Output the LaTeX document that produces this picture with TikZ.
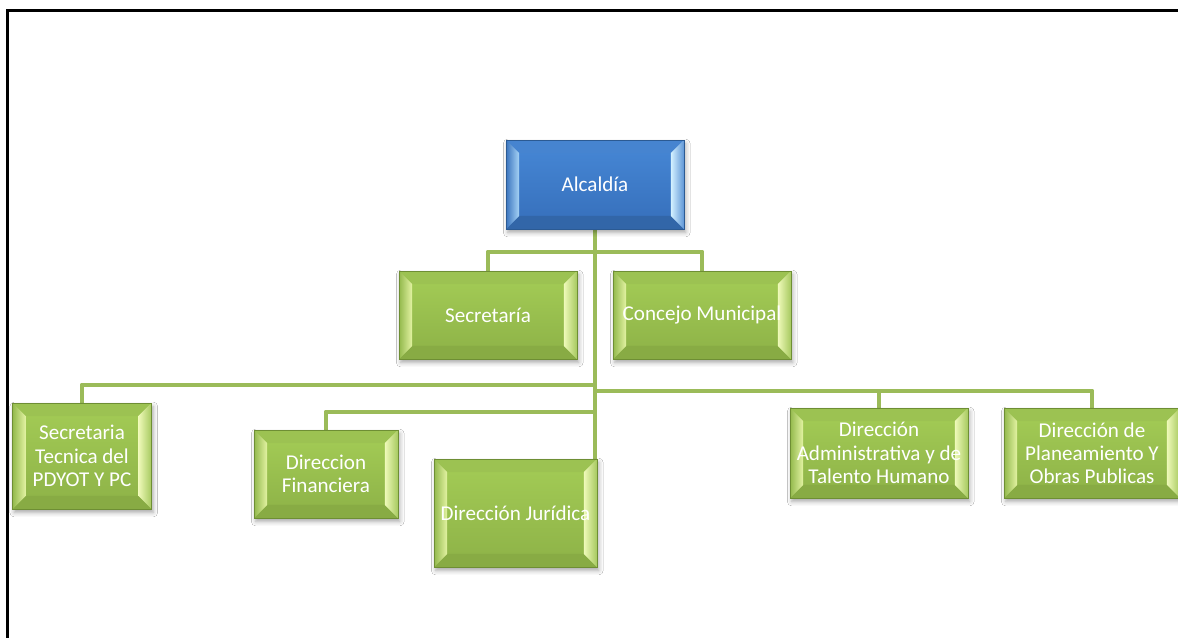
\documentclass[tikz,border=0pt]{standalone}
\usepackage{fontspec}
\setmainfont{Carlito}
\usetikzlibrary{calc,shadows.blur,backgrounds}
\definecolor{conncol}{HTML}{9BBB59}
\definecolor{gline}{HTML}{6E8E34}
\definecolor{gface}{HTML}{9BC250}
\definecolor{gfacetop}{HTML}{A1C954}
\definecolor{gfacebot}{HTML}{90B549}
\definecolor{gbevtop}{HTML}{9CC252}
\definecolor{gbevbot}{HTML}{88AB44}
\definecolor{gbevlo}{HTML}{93B94C}
\definecolor{gbevli}{HTML}{E2F2A2}
\definecolor{gbevri}{HTML}{EEF9B8}
\definecolor{gbevro}{HTML}{A6C95F}
\definecolor{bline}{HTML}{2B5A93}
\definecolor{bface}{RGB}{62,125,201}
\definecolor{bfacetop}{RGB}{68,132,210}
\definecolor{bfacebot}{RGB}{56,114,190}
\definecolor{bbevtop}{RGB}{70,132,208}
\definecolor{bbevbot}{RGB}{50,102,168}
\definecolor{bbevlo}{RGB}{58,116,190}
\definecolor{bbevli}{RGB}{165,210,245}
\definecolor{bbevri}{RGB}{210,240,255}
\definecolor{bbevro}{RGB}{95,150,215}
\newlength{\bv}\setlength{\bv}{0.26cm}
\newcommand\bevelpic[8]{%
  \coordinate (bNW) at (path picture bounding box.north west);
  \coordinate (bNE) at (path picture bounding box.north east);
  \coordinate (bSW) at (path picture bounding box.south west);
  \coordinate (bSE) at (path picture bounding box.south east);
  \coordinate (iNW) at ($(bNW)+(\bv,-\bv)$);
  \coordinate (iNE) at ($(bNE)+(-\bv,-\bv)$);
  \coordinate (iSW) at ($(bSW)+(\bv,\bv)$);
  \coordinate (iSE) at ($(bSE)+(-\bv,\bv)$);
  \shade[top color=#1,bottom color=#2] (iNW) rectangle (iSE);
  \fill[#3] (bNW)--(bNE)--(iNE)--(iNW)--cycle;
  \fill[#4] (bSW)--(bSE)--(iSE)--(iSW)--cycle;
  \shade[left color=#5,right color=#6] (bNW)--(iNW)--(iSW)--(bSW)--cycle;
  \shade[left color=#7,right color=#8] (bNE)--(iNE)--(iSE)--(bSE)--cycle;
}
\tikzset{
  basebox/.style={rectangle, inner sep=0pt, text=white, align=center,
    font=\fontsize{12}{13.2}\selectfont, line width=0.5pt,
    blur shadow={shadow xshift=1pt, shadow yshift=-2pt, shadow blur radius=2.5pt, shadow opacity=35}},
  greenbox/.style={basebox, draw=gline, fill=gface,
    path picture={\bevelpic{gfacetop}{gfacebot}{gbevtop}{gbevbot}{gbevlo}{gbevli}{gbevri}{gbevro}}},
  bluebox/.style={basebox, draw=bline, fill=bface,
    path picture={\bevelpic{bfacetop}{bfacebot}{bbevtop}{bbevbot}{bbevlo}{bbevli}{bbevri}{bbevro}}},
  conn/.style={draw=conncol, line width=2.8pt, line join=round},
  frameline/.style={draw=black, line width=1.3pt}
}
\begin{document}
\begin{tikzpicture}[x=0.02cm, y=-0.02cm]
\useasboundingbox (0,0) rectangle (1178,638);
% boxes
\node[bluebox, minimum width=3.56cm, minimum height=1.78cm] (alc) at (595,184.5) {Alcaldía};
\node[greenbox, minimum width=3.56cm, minimum height=1.76cm] (sec) at (488,315) {Secretaría};
\node[greenbox, minimum width=3.56cm, minimum height=1.76cm] (con) at (702,315) {Concejo Municipal};
\node[greenbox, minimum width=2.78cm, minimum height=2.12cm] (tec) at (82,456) {Secretaria\\Tecnica del\\PDYOT Y PC};
\node[greenbox, minimum width=2.88cm, minimum height=1.76cm] (fin) at (326,474) {Direccion\\Financiera};
\node[greenbox, minimum width=3.26cm, minimum height=2.16cm] (jur) at (515.5,513) {Dirección Jurídica};
\node[greenbox, minimum width=3.56cm, minimum height=1.8cm] (adm) at (879,453) {Dirección\\Administrativa y de\\Talento Humano};
\node[greenbox, minimum width=3.52cm, minimum height=1.8cm] (pla) at (1092,453) {Dirección de\\Planeamiento Y\\Obras Publicas};
% junction points
\coordinate (j1) at (595,252);
\coordinate (j2) at (595,385);
\coordinate (j3) at (595,412);
\coordinate (j4) at (596,391);
\begin{scope}[on background layer]
  \fill[white] (-20,-20) rectangle (1200,660);
  \draw[conn] (alc.south) -- (alc.south |- jur.east);
  \draw[conn] (sec.north) |- (j1) -| (con.north);
  \draw[conn] (tec.north) |- (j2);
  \draw[conn] (fin.north) |- (j3);
  \draw[conn] (j4) -| (adm.north);
  \draw[conn] (j4) -| (pla.north);
\end{scope}
% frame
\draw[frameline] (7.5,660) -- (7.5,10.5) -- (1200,10.5);
\end{tikzpicture}
\end{document}
